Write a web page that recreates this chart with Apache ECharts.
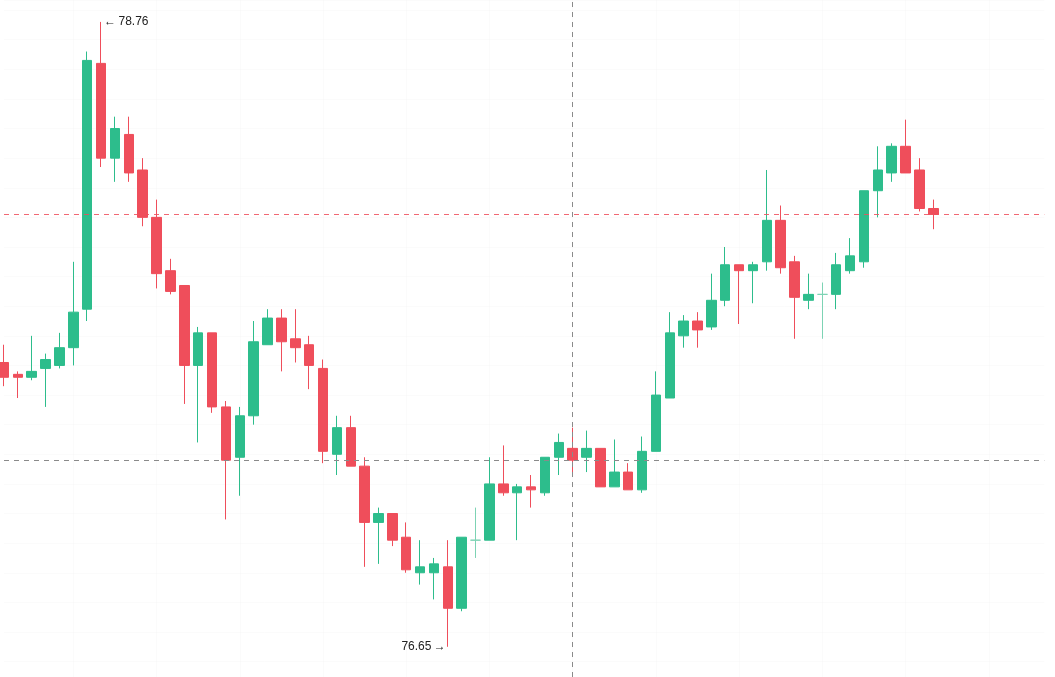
<!DOCTYPE html>
<html>

<head>
    <meta charset="utf-8">
    <title>K线</title>
    <script src="https://cdn.jsdelivr.net/npm/echarts@6/dist/echarts.min.js"></script>
    <style>
        html, body { margin: 0; padding: 0; background: #fff; }
    </style>
</head>

<body>
    <div id="main" style="width: 1055px;height:677px;"></div>
    <script type="text/javascript">
        // 每根K线: 开盘 / 收盘 / 最高 / 最低
        var opens = [77.61, 77.57, 77.56, 77.59, 77.60, 77.66, 77.79, 78.62, 78.30, 78.38,
            78.26, 78.10, 77.92, 77.87, 77.60, 77.71, 77.46, 77.29, 77.43, 77.67,
            77.76, 77.69, 77.67, 77.59, 77.30, 77.39, 77.26, 77.07, 77.10, 77.02,
            76.90, 76.90, 76.92, 76.78, 77.01, 77.01, 77.20, 77.17, 77.19, 77.17,
            77.29, 77.32, 77.29, 77.32, 77.19, 77.24, 77.18, 77.31, 77.49, 77.70,
            77.75, 77.73, 77.82, 77.94, 77.92, 77.95, 78.09, 77.95, 77.82, 77.84,
            77.84, 77.92, 77.95, 78.19, 78.25, 78.34, 78.26, 78.13];
        var closes = [77.56, 77.56, 77.58, 77.62, 77.66, 77.78, 78.63, 78.30, 78.40, 78.25,
            78.10, 77.91, 77.85, 77.60, 77.71, 77.46, 77.28, 77.43, 77.68, 77.76,
            77.68, 77.66, 77.60, 77.31, 77.39, 77.26, 77.07, 77.10, 77.01, 76.91,
            76.92, 76.93, 76.78, 77.02, 77.01, 77.20, 77.17, 77.19, 77.18, 77.29,
            77.34, 77.28, 77.32, 77.19, 77.24, 77.18, 77.31, 77.50, 77.71, 77.75,
            77.72, 77.82, 77.94, 77.92, 77.94, 78.09, 77.93, 77.83, 77.84, 77.84,
            77.94, 77.97, 78.19, 78.26, 78.34, 78.25, 78.13, 78.11];
        var highs = [77.67, 77.58, 77.70, 77.64, 77.71, 77.95, 78.66, 78.76, 78.44, 78.44,
            78.30, 78.16, 77.96, 77.87, 77.73, 77.71, 77.48, 77.46, 77.75, 77.79,
            77.79, 77.79, 77.70, 77.62, 77.43, 77.43, 77.29, 77.12, 77.10, 77.07,
            77.01, 76.95, 77.01, 77.02, 77.12, 77.29, 77.33, 77.20, 77.23, 77.29,
            77.37, 77.39, 77.38, 77.32, 77.35, 77.27, 77.36, 77.58, 77.78, 77.77,
            77.78, 77.91, 78.00, 77.94, 77.95, 78.26, 78.14, 77.97, 77.91, 77.88,
            77.98, 78.03, 78.19, 78.34, 78.35, 78.43, 78.30, 78.16];
        var lows = [77.53, 77.49, 77.55, 77.46, 77.59, 77.60, 77.75, 78.27, 78.22, 78.22,
            78.07, 77.86, 77.84, 77.47, 77.34, 77.44, 77.08, 77.16, 77.40, 77.67,
            77.58, 77.61, 77.52, 77.27, 77.23, 77.26, 76.92, 76.93, 76.99, 76.90,
            76.86, 76.81, 76.65, 76.77, 76.95, 77.01, 77.16, 77.01, 77.12, 77.16,
            77.23, 77.24, 77.24, 77.19, 77.19, 77.18, 77.17, 77.31, 77.49, 77.66,
            77.66, 77.72, 77.80, 77.74, 77.81, 77.92, 77.91, 77.69, 77.79, 77.69,
            77.79, 77.91, 77.93, 78.10, 78.22, 78.25, 78.12, 78.06];

        // 十字光标位置
        var crossIndex = 41;
        var crossPrice = 77.28;
        // 右侧留白的空K线数
        var rightPad = 8;

        var upColor = '#2dbd8c';
        var downColor = '#ef4e5b';

        var categories = [];
        for (var i = 0; i < opens.length + rightPad; i++) {
            categories.push(String(i + 1));
        }

        var kData = opens.map(function (o, i) {
            return [o, closes[i], lows[i], highs[i]];
        });

        var maxHigh = Math.max.apply(null, highs);
        var maxIdx = highs.indexOf(maxHigh);
        var minLow = Math.min.apply(null, lows);
        var minIdx = lows.indexOf(minLow);
        var lastClose = closes[closes.length - 1];

        var myChart = echarts.init(document.getElementById('main'));
        var option = {
            animation: false,
            grid: { left: 4, right: 10.75, top: 0, bottom: 0 },
            xAxis: {
                type: 'category',
                data: categories,
                boundaryGap: false,
                axisLine: { show: false },
                axisTick: { show: false },
                axisLabel: { show: false },
                splitLine: {
                    show: true,
                    interval: function (index) { return index % 6 === 5; },
                    lineStyle: { color: 'rgba(0,0,0,0.015)' }
                }
            },
            yAxis: {
                type: 'value',
                min: 76.548,
                max: 78.834,
                splitNumber: 23,
                axisLine: { show: false },
                axisTick: { show: false },
                axisLabel: { show: false },
                splitLine: { lineStyle: { color: 'rgba(0,0,0,0.015)' } }
            },
            series: [{
                type: 'candlestick',
                data: kData,
                barWidth: 10,
                clip: false,
                itemStyle: {
                    color: upColor,
                    color0: downColor,
                    borderColor: upColor,
                    borderColor0: downColor,
                    borderColorDoji: '#7dd3b4',
                    borderWidth: 1
                },
                markPoint: {
                    symbol: 'circle',
                    symbolSize: 0,
                    label: {
                        color: '#222',
                        fontSize: 12,
                        fontFamily: 'Arial, sans-serif'
                    },
                    data: [{
                        coord: [maxIdx, maxHigh],
                        label: { position: 'right', distance: 3, formatter: '\u2190\u2009' + maxHigh.toFixed(2) }
                    }, {
                        coord: [minIdx, minLow],
                        label: { position: 'left', distance: 2, formatter: minLow.toFixed(2) + '\u2009\u2192' }
                    }]
                },
                markLine: {
                    symbol: ['none', 'none'],
                    silent: true,
                    label: { show: false },
                    data: [{
                        yAxis: lastClose,
                        lineStyle: { color: downColor, type: [5, 5], width: 1, opacity: 0.85 }
                    }, {
                        yAxis: crossPrice,
                        lineStyle: { color: '#8a8a8a', type: [5, 5], width: 1 }
                    }, {
                        xAxis: categories[crossIndex],
                        lineStyle: { color: '#8a8a8a', type: [5, 5], width: 1 }
                    }]
                }
            }]
        };
        myChart.setOption(option);
    </script>
</body>

</html>
